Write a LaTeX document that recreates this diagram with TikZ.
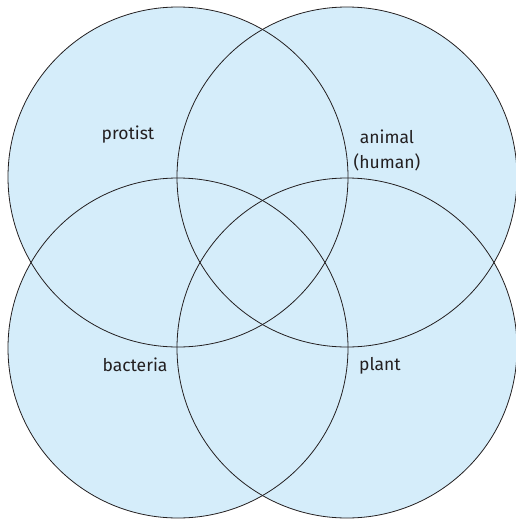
\documentclass[tikz,border=0pt]{standalone}
\usepackage{fontspec}
\setmainfont{Fira Sans}
\definecolor{vennfill}{HTML}{D5EDFA}
\definecolor{vennline}{HTML}{231F20}
\begin{document}
\begin{tikzpicture}[x=1pt,y=-1pt,
  venncircle/.style={circle,minimum size=340pt,inner sep=0pt},
  lbl/.style={font=\fontsize{17.5}{25}\selectfont,text=vennline,align=center,inner sep=0pt}]
\useasboundingbox (0,0) rectangle (516,520);
\foreach \n/\x/\y in {tl/178/177, tr/347/177, bl/178/348, br/347/348}{
  \node[venncircle,fill=vennfill] (\n) at (\x,\y) {};
}
\foreach \n/\x/\y in {tl/178/177, tr/347/177, bl/178/348, br/347/348}{
  \node[venncircle,draw=vennline,line width=0.8pt] (\n o) at (\x,\y) {};
}
\node[lbl] (protist) at (128,135) {protist};
\node[lbl] (animal) at (387,150) {animal\\(human)};
\node[lbl] (bacteria) at (135,365) {bacteria};
\node[lbl] (plant) at (380,366) {plant};
\end{tikzpicture}
\end{document}
